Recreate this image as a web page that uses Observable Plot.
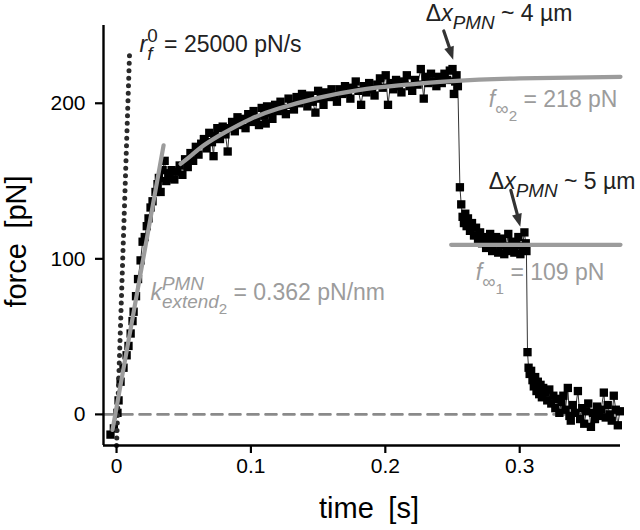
<!DOCTYPE html>
<html><head><meta charset="utf-8">
<script src="https://cdn.jsdelivr.net/npm/d3@7"></script>
<script src="https://cdn.jsdelivr.net/npm/@observablehq/plot@0.6"></script>
<style>
html,body{margin:0;padding:0;background:#fff;}
#chart svg{display:block;}
</style>
</head><body><div id="chart"></div>
<script>
// ---- data: [time (s), force (pN)] ----
const rise = [[-0.0045,-13],[-0.002,-9],[0.0007,1],[0.0015,9],[0.003,21],[0.0052,30],[0.0075,38],[0.0089,44],[0.0105,52],[0.0119,60],[0.0127,66],[0.0145,76],[0.016,87],[0.0179,99],[0.0194,111],[0.021,114],[0.0225,121],[0.0238,126],[0.0253,133],[0.0268,137],[0.029,143],[0.0305,148],[0.0315,152],[0.0328,143],[0.0343,157],[0.0358,163],[0.037,150],[0.0385,155]];
const approach = [[0.039,152],[0.041,157],[0.043,151],[0.045,156],[0.047,160],[0.049,154],[0.051,164],[0.053,159],[0.055,168],[0.057,163],[0.059,172],[0.061,167],[0.063,174],[0.065,177],[0.067,171],[0.069,181],[0.071,175],[0.0722,166],[0.073,179],[0.075,184],[0.077,177],[0.079,185],[0.081,180],[0.0827,169],[0.084,184],[0.086,188],[0.088,182],[0.090,191],[0.092,186],[0.094,190],[0.096,184],[0.098,193],[0.100,188],[0.102,195],[0.104,190],[0.106,186],[0.108,197],[0.110,192],[0.111,187],[0.112,198],[0.114,194],[0.116,190],[0.118,199],[0.120,195],[0.122,201],[0.124,197],[0.126,193],[0.128,203],[0.130,199],[0.132,196],[0.134,204],[0.136,200],[0.138,206],[0.140,202],[0.142,198],[0.144,205],[0.146,201],[0.148,194],[0.150,208],[0.152,203],[0.154,199],[0.156,207],[0.158,204],[0.160,209],[0.162,205],[0.164,201],[0.166,209],[0.168,206],[0.170,211],[0.172,207],[0.174,203],[0.176,210],[0.178,214],[0.180,208],[0.182,199],[0.184,211],[0.186,207],[0.188,213],[0.190,209],[0.192,205],[0.194,212],[0.196,216],[0.198,210],[0.2003,218],[0.202,199],[0.204,213],[0.206,209],[0.208,215],[0.210,211],[0.212,207],[0.214,214],[0.216,218],[0.218,211],[0.220,208],[0.222,215],[0.224,212],[0.2264,222],[0.2286,203],[0.230,217],[0.232,213],[0.234,219],[0.236,214],[0.238,211],[0.240,217],[0.242,213],[0.244,219],[0.246,215],[0.248,221],[0.250,222],[0.251,206],[0.252,214],[0.253,218],[0.254,211]];
const plateau = [[0.2555,146],[0.2565,135],[0.2575,127],[0.2585,123],[0.2595,129],[0.2605,121],[0.2615,126],[0.263,118],[0.2645,123],[0.266,115],[0.2675,120],[0.269,112],[0.2705,117],[0.272,110],[0.2735,114],[0.275,107],[0.2765,112],[0.278,116],[0.2795,105],[0.281,110],[0.2825,114],[0.284,104],[0.2855,109],[0.287,113],[0.2885,103],[0.29,108],[0.2915,116],[0.293,105],[0.2945,111],[0.296,104],[0.2975,109],[0.299,114],[0.3005,103],[0.302,108],[0.3035,117],[0.3045,110],[0.305,105]];
const release = [[0.3058,40],[0.3066,30],[0.3074,26],[0.3085,28],[0.3095,22],[0.3105,18],[0.3115,24],[0.3125,15],[0.3135,21],[0.3145,13],[0.3155,19],[0.3165,11],[0.3175,17],[0.319,14],[0.3205,9],[0.322,16],[0.3235,7],[0.325,12],[0.3265,4],[0.328,10],[0.3295,1],[0.331,8],[0.3325,12],[0.334,3],[0.3358,17],[0.337,-1],[0.338,-4],[0.3395,6],[0.341,1],[0.3433,15],[0.345,-3],[0.3465,4],[0.348,-6],[0.3495,2],[0.351,7],[0.353,-8],[0.3545,1],[0.356,-3],[0.3575,5],[0.359,-1],[0.3605,3],[0.3626,14],[0.364,-2],[0.3655,6],[0.367,0],[0.3685,-4],[0.370,12],[0.3715,3],[0.373,-7],[0.3745,2]];

// fitted curves
const riseFit = [[-0.003,-10],[0.035,173]];
const approachFit = [[0.0477,161],[0.055,166],[0.065,173],[0.08,181],[0.1,190],[0.12,196.5],[0.15,203.5],[0.18,208.5],[0.21,211.5],[0.25,214.3],[0.3,216],[0.375,217]];
const plateauFit = [[0.249,109],[0.375,109]];
const initialRate = [[0,-20],[0.0098,235]];
const zeroLine = [[-0.0097,0],[0.375,0]];

const xDomain = [-0.0097, 0.375];
const yDomain = [-20, 250];
const xTicks = [0, 0.1, 0.2, 0.3];
const yTicks = [0, 100, 200];
const xLabel = "time\u2002[s]";
const yLabel = "force\u2002[pN]";

const arrows = [
  {x1: 0.2435, y1: 246.5, x2: 0.2509, y2: 227.7},
  {x1: 0.2934, y1: 144, x2: 0.3008, y2: 120.3}
];

const darkLabels = [
  {key: "rf", t: 0.0171, f: 232.8},
  {key: "dx4", t: 0.2301, f: 252.6},
  {key: "dx5", t: 0.277, f: 144.7}
];
const grayLabels = [
  {key: "finf2", t: 0.277, f: 197.4},
  {key: "finf1", t: 0.2673, f: 86.2},
  {key: "kext", t: 0.0253, f: 73.3}
];
const labelText = {
  rf:    [["r","i"],["0","sup"],["f","i sub stack"],[" = 25000 pN/s",""]],
  dx4:   [["\u0394",""],["x","i"],["PMN","i sub"],[" ~ 4 \u00b5m",""]],
  dx5:   [["\u0394",""],["x","i"],["PMN","i sub"],[" ~ 5 \u00b5m",""]],
  finf2: [["f","i"],["\u221e","sub"],["2","subsub"],[" = 218 pN",""]],
  finf1: [["f","i"],["\u221e","sub"],["1","subsub"],[" = 109 pN",""]],
  kext:  [["k","i"],["PMN","i sup"],["extend","i sub stack"],["2","subsub"],[" = 0.362 pN/nm",""]]
};

const FONT = "'Liberation Sans', Arial, Helvetica, sans-serif";
const GRAY = "#9c9c9c";
const toObj = (a) => a.map(([t, f]) => ({t, f}));
const samples = toObj([...rise, ...approach, ...plateau, ...release]);
const hasAxisMarks = typeof Plot.axisX === "function";

const axisMarks = hasAxisMarks ? [
  Plot.axisX({ticks: xTicks, tickSize: 8, tickPadding: 5, tickFormat: (d) => String(d), label: null, fontSize: 21, strokeWidth: 2.2}),
  Plot.axisY({ticks: yTicks, tickSize: 8, tickPadding: 10, tickFormat: (d) => String(d), label: null, fontSize: 21, strokeWidth: 2.2})
] : [];

const plot = Plot.plot({
  width: 640, height: 530,
  marginLeft: 103, marginRight: 20, marginTop: 25, marginBottom: 85,
  style: {fontFamily: FONT, fontSize: "21px", background: "white", color: "black", overflow: "visible"},
  x: {domain: xDomain, ticks: xTicks, tickSize: 8, tickPadding: 5, tickFormat: (d) => String(d), label: null},
  y: {domain: yDomain, ticks: yTicks, tickSize: 8, tickPadding: 10, tickFormat: (d) => String(d), label: null},
  marks: [
    Plot.line(toObj(zeroLine), {x: "t", y: "f", stroke: "#8a8a8a", strokeWidth: 2.6, strokeDasharray: "11,7"}),
    Plot.line(samples, {x: "t", y: "f", stroke: "#333", strokeWidth: 1}),
    Plot.dot(samples, {x: "t", y: "f", symbol: "square", r: 4.7, fill: "#000", stroke: "none"}),
    Plot.line(toObj(initialRate), {x: "t", y: "f", stroke: "#2a2a2a", strokeWidth: 5, strokeDasharray: "0,7.5", strokeLinecap: "round"}),
    Plot.line(toObj(riseFit), {x: "t", y: "f", stroke: GRAY, strokeWidth: 4.2}),
    Plot.line(toObj(approachFit), {x: "t", y: "f", stroke: GRAY, strokeWidth: 4.2, curve: "natural"}),
    Plot.line(toObj(plateauFit), {x: "t", y: "f", stroke: GRAY, strokeWidth: 4.2}),
    Plot.arrow(arrows, {x1: "x1", y1: "y1", x2: "x2", y2: "y2", stroke: "#333", strokeWidth: 3.2, headLength: 0, insetEnd: 9}),
    ...axisMarks,
    Plot.ruleX([xDomain[0]], {stroke: "#000", strokeWidth: 2.4}),
    Plot.ruleY([yDomain[0]], {stroke: "#000", strokeWidth: 2.4}),
    Plot.text(darkLabels, {x: "t", y: "f", text: "key", textAnchor: "start", lineAnchor: "bottom", fontSize: 23, fontFamily: FONT, fill: "#222"}),
    Plot.text(grayLabels, {x: "t", y: "f", text: "key", textAnchor: "start", lineAnchor: "bottom", fontSize: 23, fontFamily: FONT, fill: GRAY}),
    Plot.text([xLabel], {text: (d) => d, frameAnchor: "bottom", dx: 7, dy: 72, lineAnchor: "bottom", fontSize: 29, fontFamily: FONT, fill: "#000"}),
    Plot.text([yLabel], {text: (d) => d, frameAnchor: "left", rotate: -90, dx: -78, dy: 6, lineAnchor: "bottom", textAnchor: "middle", fontSize: 29, fontFamily: FONT, fill: "#000"})
  ]
});
document.getElementById("chart").appendChild(plot);

// ---- rich text (sub/superscripts) ----
const NS = "http://www.w3.org/2000/svg";
const shiftOf = {sup: -10, sub: 8, subsub: 14};
const sizeOf = {sup: 0.82, sub: 0.82, subsub: 0.66};
plot.querySelectorAll("text").forEach((el) => {
  const parts = labelText[el.textContent];
  if (!parts) return;
  const base = parseFloat(el.getAttribute("font-size") || el.parentNode.getAttribute("font-size")) || 23;
  while (el.firstChild) el.removeChild(el.firstChild);
  let level = 0, lastW = 0, pending = 0;
  for (const [txt, fmt] of parts) {
    const flags = fmt.split(" ");
    const role = flags.find((f) => f in shiftOf);
    const shift = role ? shiftOf[role] : 0;
    const size = role ? base * sizeOf[role] : base;
    const ts = document.createElementNS(NS, "tspan");
    ts.textContent = txt;
    ts.setAttribute("font-size", size);
    ts.setAttribute("font-style", flags.includes("i") ? "italic" : "normal");
    ts.setAttribute("dy", shift - level);
    level = shift;
    let dx = pending; pending = 0;
    if (flags.includes("stack")) dx -= lastW;
    if (dx) ts.setAttribute("dx", dx);
    ts.setAttribute("style", "white-space:pre");
    el.appendChild(ts);
    const w = ts.getComputedTextLength();
    if (flags.includes("stack") && lastW > w) pending = lastW - w;
    lastW = w;
  }
});

// ---- filled arrowheads placed through the plot's scales ----
const sx = plot.scale("x"), sy = plot.scale("y");
const heads = d3.select(plot).append("g").attr("fill", "#333");
for (const a of arrows) {
  const x1 = sx.apply(a.x1), y1 = sy.apply(a.y1), x2 = sx.apply(a.x2), y2 = sy.apply(a.y2);
  const len = Math.hypot(x2 - x1, y2 - y1), ux = (x2 - x1) / len, uy = (y2 - y1) / len;
  const L = 13, W = 10;
  const bx = x2 - ux * L, by = y2 - uy * L;
  heads.append("path").attr("d",
    `M${x2},${y2}L${bx - uy * W / 2},${by + ux * W / 2}L${bx + uy * W / 2},${by - ux * W / 2}Z`);
}
</script>
</body></html>
